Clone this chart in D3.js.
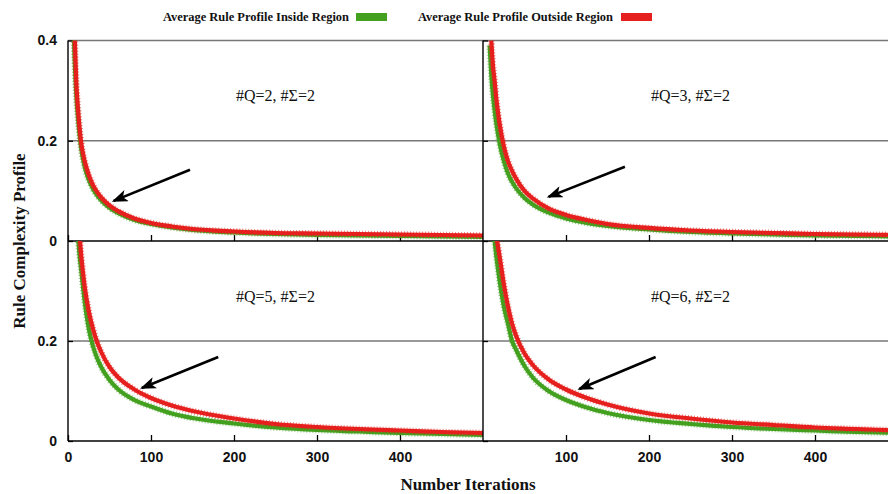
<!DOCTYPE html>
<html>
<head>
<meta charset="utf-8">
<script src="https://cdn.jsdelivr.net/npm/d3@7"></script>
<style>
  body { margin: 0; background: #fff; }
  svg { display: block; font-family: "Liberation Serif", serif; }
  .tick text { font-size: 14px; font-weight: bold; fill: #111; }
  .tick line { stroke: #000; stroke-width: 1.3; }
  .domain { display: none; }
</style>
</head>
<body>
<svg width="888" height="494"></svg>
<script>
// iterations shared by every series
const iterations = [7, 8, 10, 12, 14, 16, 20, 25, 30, 35, 40, 50, 60, 80, 100, 125, 150, 200, 250, 300, 350, 400, 450, 500];

// values (null = above the visible range)
const q2Inside  = [0.41, 0.36, 0.29, 0.245, 0.21, 0.183, 0.148, 0.122, 0.104, 0.091, 0.081, 0.066, 0.056, 0.042, 0.034, 0.027, 0.022, 0.017, 0.014, 0.012, 0.011, 0.010, 0.009, 0.008];
const q2Outside = [null, 0.41, 0.315, 0.265, 0.225, 0.195, 0.16, 0.132, 0.112, 0.098, 0.087, 0.071, 0.06, 0.045, 0.036, 0.029, 0.024, 0.019, 0.016, 0.015, 0.014, 0.013, 0.012, 0.011];
const q3Inside  = [null, 0.39, 0.33, 0.29, 0.26, 0.235, 0.195, 0.16, 0.135, 0.118, 0.105, 0.086, 0.073, 0.056, 0.045, 0.036, 0.030, 0.023, 0.018, 0.015, 0.013, 0.011, 0.010, 0.009];
const q3Outside = [null, null, 0.40, 0.35, 0.32, 0.285, 0.235, 0.19, 0.16, 0.14, 0.124, 0.10, 0.085, 0.064, 0.052, 0.042, 0.034, 0.026, 0.021, 0.018, 0.016, 0.014, 0.013, 0.012];
const q5Inside  = [null, null, null, 0.41, 0.37, 0.34, 0.28, 0.225, 0.19, 0.166, 0.148, 0.122, 0.104, 0.082, 0.069, 0.055, 0.046, 0.035, 0.027, 0.022, 0.019, 0.016, 0.014, 0.012];
const q5Outside = [null, null, null, null, 0.41, 0.37, 0.31, 0.26, 0.225, 0.198, 0.178, 0.148, 0.128, 0.103, 0.086, 0.071, 0.06, 0.045, 0.034, 0.028, 0.024, 0.021, 0.018, 0.016];
const q6Inside  = [null, null, null, null, 0.40, 0.37, 0.32, 0.27, 0.235, 0.20, 0.182, 0.15, 0.127, 0.099, 0.082, 0.067, 0.056, 0.042, 0.034, 0.028, 0.024, 0.021, 0.018, 0.016];
const q6Outside = [null, null, null, null, null, 0.41, 0.37, 0.315, 0.27, 0.235, 0.21, 0.175, 0.152, 0.122, 0.103, 0.086, 0.073, 0.055, 0.045, 0.037, 0.032, 0.027, 0.024, 0.021];

const panelLabels = ["#Q=2, #Σ=2", "#Q=3, #Σ=2", "#Q=5, #Σ=2", "#Q=6, #Σ=2"];
const xTicks = [0, 100, 200, 300, 400];
const yTicks = [0, 0.2, 0.4];
const legendLabels = ["Average Rule Profile Inside Region", "Average Rule Profile Outside Region"];

const green = "#43a11f", red = "#e5201e";

var svg = d3.select("svg");

var cols = [[68, 483], [483, 898]];
var rows = [[241, 40.5], [441, 241]];

var panels = [
    { label: panelLabels[0], col: 0, row: 0, inside: q2Inside, outside: q2Outside, arrow: [[147, 0.142], [55, 0.08]] },
    { label: panelLabels[1], col: 1, row: 0, inside: q3Inside, outside: q3Outside, arrow: [[171, 0.148], [79, 0.088]] },
    { label: panelLabels[2], col: 0, row: 1, inside: q5Inside, outside: q5Outside, arrow: [[181, 0.168], [89, 0.106]] },
    { label: panelLabels[3], col: 1, row: 1, inside: q6Inside, outside: q6Outside, arrow: [[208, 0.168], [116, 0.104]] }
];

var defs = svg.append("defs");
defs.append("marker")
    .attr("id", "head")
    .attr("markerUnits", "userSpaceOnUse")
    .attr("viewBox", "0 -6 16 12")
    .attr("refX", 14).attr("refY", 0)
    .attr("markerWidth", 16).attr("markerHeight", 12)
    .attr("orient", "auto")
    .append("path")
    .attr("d", "M0,-6L16,0L0,6L4,0Z")
    .attr("fill", "#000");

panels.forEach((p, i) => {
    var x = d3.scaleLinear().domain([0, 500]).range(cols[p.col]);
    var y = d3.scaleLinear().domain([0, 0.4]).range(rows[p.row]);
    var g = svg.append("g");

    defs.append("clipPath").attr("id", "clip" + i)
        .append("rect")
        .attr("x", cols[p.col][0]).attr("y", rows[p.row][1])
        .attr("width", cols[p.col][1] - cols[p.col][0])
        .attr("height", rows[p.row][0] - rows[p.row][1]);

    // grid lines
    g.selectAll(".grid")
        .data(p.row === 0 ? [0.2, 0.4] : [0.2])
        .enter().append("line")
        .attr("x1", x(0)).attr("x2", x(500))
        .attr("y1", d => y(d)).attr("y2", d => y(d))
        .attr("stroke", "#777").attr("stroke-width", 1.4);

    // axes
    var xAxis = d3.axisBottom(x).tickValues(p.col === 0 ? xTicks : xTicks.slice(1))
        .tickSizeInner(-6).tickSizeOuter(0).tickPadding(11);
    g.append("g").attr("transform", `translate(0,${y(0)})`).call(xAxis)
        .selectAll("text").style("display", p.row === 1 ? null : "none");

    var yAxis = d3.axisLeft(y).tickValues(p.row === 0 ? yTicks : yTicks.slice(0, 2))
        .tickSizeInner(-5).tickSizeOuter(0).tickPadding(11)
        .tickFormat(d => d === 0 ? "0" : d3.format(".1f")(d));
    g.append("g").attr("transform", `translate(${x(0)},0)`).call(yAxis)
        .selectAll("text").style("display", p.col === 0 ? null : "none");

    g.append("line")
        .attr("x1", x(0)).attr("x2", x(500)).attr("y1", y(0)).attr("y2", y(0))
        .attr("stroke", "#000").attr("stroke-width", 1.4);
    g.append("line")
        .attr("x1", x(0)).attr("x2", x(0)).attr("y1", y(0)).attr("y2", y(0.4))
        .attr("stroke", "#000").attr("stroke-width", 1.4);

    // curves
    var line = d3.line()
        .defined(d => d[1] != null)
        .x(d => x(d[0])).y(d => y(d[1]))
        .curve(d3.curveMonotoneX);

    var curves = g.append("g").attr("clip-path", `url(#clip${i})`);
    [[p.inside, green], [p.outside, red]].forEach(([vals, color]) => {
        var pts = iterations.map((it, k) => [it, vals[k]]);
        curves.append("path").datum(pts)
            .attr("d", line).attr("fill", "none")
            .attr("stroke", color).attr("stroke-width", 4.2);
        curves.append("path").datum(pts)
            .attr("d", line).attr("fill", "none")
            .attr("stroke", color).attr("stroke-width", 6.5)
            .attr("stroke-dasharray", "1 2").attr("opacity", 0.55);
    });

    // label
    g.append("text")
        .attr("x", x(250)).attr("y", y(0.29))
        .attr("text-anchor", "middle").attr("dy", "0.35em")
        .attr("font-size", 16).attr("fill", "#111")
        .text(p.label);

    // arrow
    g.append("line")
        .attr("x1", x(p.arrow[0][0])).attr("y1", y(p.arrow[0][1]))
        .attr("x2", x(p.arrow[1][0])).attr("y2", y(p.arrow[1][1]))
        .attr("stroke", "#000").attr("stroke-width", 2.6)
        .attr("marker-end", "url(#head)");
});

// legend
var legend = svg.append("g").attr("font-size", 13).attr("font-weight", "bold");
[[163, 356, green], [418, 621, red]].forEach(([tx, sx, color], i) => {
    legend.append("text").attr("x", tx).attr("y", 21).attr("fill", "#111")
        .attr("textLength", i === 0 ? 186 : 195).attr("lengthAdjust", "spacingAndGlyphs")
        .text(legendLabels[i]);
    legend.append("rect").attr("x", sx).attr("y", 13).attr("width", 31).attr("height", 8)
        .attr("fill", color);
});

// axis titles
svg.append("text")
    .attr("x", 468).attr("y", 490)
    .attr("text-anchor", "middle").attr("font-size", 17).attr("font-weight", "bold")
    .attr("fill", "#111")
    .text("Number Iterations");
svg.append("text")
    .attr("transform", "translate(25,241) rotate(-90)")
    .attr("text-anchor", "middle").attr("font-size", 17).attr("font-weight", "bold")
    .attr("fill", "#111")
    .text("Rule Complexity Profile");
</script>
</body>
</html>
